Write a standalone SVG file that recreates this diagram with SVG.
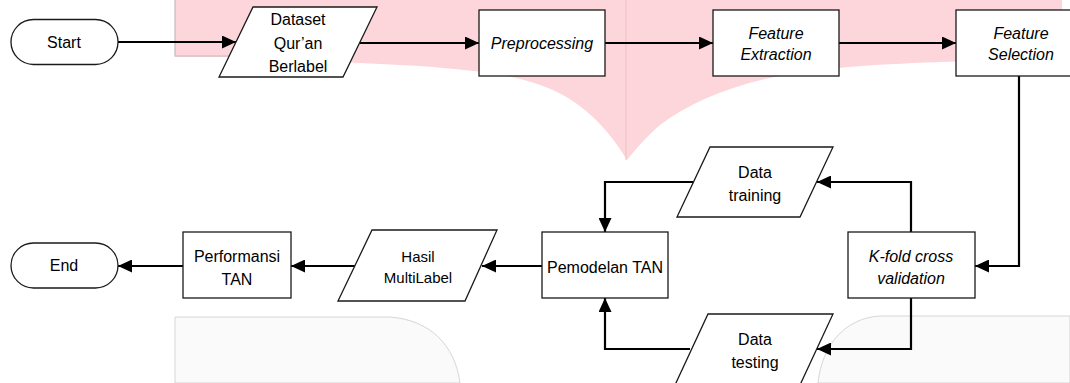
<svg xmlns="http://www.w3.org/2000/svg" width="1070" height="383" viewBox="0 0 1070 383">
<style>
.shape{fill:#fff;stroke:#1a1a1a;stroke-width:1.3}
.lbl{font-family:"Liberation Sans",Arial,sans-serif;font-size:16px;fill:#000;text-anchor:middle}
.it{font-style:italic}
.sm{font-size:15px}
.conn{fill:none;stroke:#000;stroke-width:2.2}
</style>
<defs>
<marker id="arr" markerUnits="userSpaceOnUse" markerWidth="14" markerHeight="13" refX="14" refY="6.5" orient="auto">
<path d="M0,0 L14,6.5 L0,13 z" fill="#000"/>
</marker>
</defs>
<rect x="0" y="0" width="1070" height="383" fill="#fff"/>
<g id="watermark">
<path d="M175,0 H1062 V60 C1000,60 900,62 839,68 C760,74 700,95 660,125 C645,138 635,150 627,160 C612,135 585,100 540,85 C510,74 470,70 420,66 L360,63 L240,57 H175 Z" fill="#fcd6da"/>
<path d="M175,0 V56 H240" fill="none" stroke="#c9b8ba" stroke-width="1.2"/>
<line x1="626" y1="0" x2="626" y2="160" stroke="#f0bfc4" stroke-width="1"/>
<path d="M175,383 V317 H390 C430,320 455,345 460,383 Z" fill="#fafafa" stroke="#d6d6d6" stroke-width="1"/>
<path d="M818,383 C822,345 845,318 880,316 H1070 V383 Z" fill="#fafafa" stroke="#d6d6d6" stroke-width="1"/>
</g>
<g id="connectors">
<path class="conn" d="M118,42 H236" marker-end="url(#arr)"/>
<path class="conn" d="M360,43 H479" marker-end="url(#arr)"/>
<path class="conn" d="M605,43 H713" marker-end="url(#arr)"/>
<path class="conn" d="M839,43 H956" marker-end="url(#arr)"/>
<path class="conn" d="M1019,76 V266 H975" marker-end="url(#arr)"/>
<path class="conn" d="M911,232 V182 H817" marker-end="url(#arr)"/>
<path class="conn" d="M911,298 V349 H817" marker-end="url(#arr)"/>
<path class="conn" d="M693,182 H605 V232" marker-end="url(#arr)"/>
<path class="conn" d="M690,349 H605 V298" marker-end="url(#arr)"/>
<path class="conn" d="M542,266 H482" marker-end="url(#arr)"/>
<path class="conn" d="M355,266 H291" marker-end="url(#arr)"/>
<path class="conn" d="M183,266 H118" marker-end="url(#arr)"/>
</g>
<g id="start">
<rect class="shape" x="11" y="19.5" width="107" height="45" rx="22.5"/>
<text class="lbl" x="64" y="47.5">Start</text>
</g>
<g id="dataset">
<polygon class="shape" points="253,7 377,7 343,77 219,77"/>
<text class="lbl" x="298" y="25">Dataset</text>
<text class="lbl" x="298" y="48.5">Qur’an</text>
<text class="lbl" x="298" y="72">Berlabel</text>
</g>
<g id="preprocessing">
<rect class="shape" x="479" y="10" width="126" height="66"/>
<text class="lbl it" x="542" y="48.5">Preprocessing</text>
</g>
<g id="feature-extraction">
<rect class="shape" x="713" y="10" width="126" height="66"/>
<text class="lbl it" x="776" y="38.5">Feature</text>
<text class="lbl it" x="776" y="60">Extraction</text>
</g>
<g id="feature-selection">
<rect class="shape" x="956" y="10" width="128" height="66"/>
<text class="lbl it" x="1021" y="38.5">Feature</text>
<text class="lbl it" x="1021" y="60">Selection</text>
</g>
<g id="kfold">
<rect class="shape" x="848" y="232" width="127" height="66"/>
<text class="lbl it" x="911" y="261.5">K-fold cross</text>
<text class="lbl it" x="911" y="283.5">validation</text>
</g>
<g id="data-training">
<polygon class="shape" points="710,147 833,147 800,217 677,217"/>
<text class="lbl" x="755" y="177.5">Data</text>
<text class="lbl" x="755" y="200.5">training</text>
</g>
<g id="data-testing">
<polygon class="shape" points="708,314 833,314 800,385 675,385"/>
<text class="lbl" x="755" y="344.5">Data</text>
<text class="lbl" x="755" y="367.5">testing</text>
</g>
<g id="pemodelan">
<rect class="shape" x="542" y="232" width="126" height="66"/>
<text class="lbl" x="605" y="272.5">Pemodelan TAN</text>
</g>
<g id="hasil">
<polygon class="shape" points="372,230 497,230 465,301 338,301"/>
<text class="lbl sm" x="418" y="262">Hasil</text>
<text class="lbl sm" x="418" y="282.5">MultiLabel</text>
</g>
<g id="performansi">
<rect class="shape" x="183" y="232" width="108" height="66"/>
<text class="lbl" x="237" y="261.5">Performansi</text>
<text class="lbl" x="237" y="284.5">TAN</text>
</g>
<g id="end">
<rect class="shape" x="11" y="243" width="107" height="45" rx="22.5"/>
<text class="lbl" x="64" y="271">End</text>
</g>
</svg>
